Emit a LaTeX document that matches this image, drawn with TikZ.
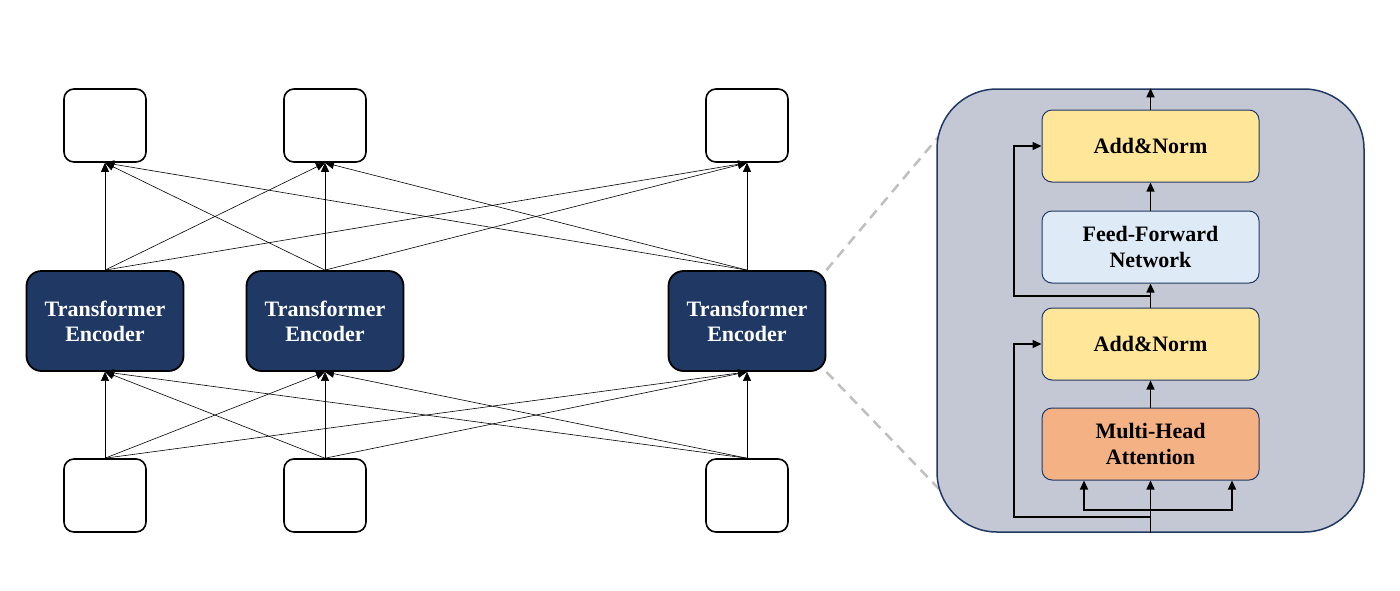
\documentclass[tikz,border=0pt]{standalone}
\usepackage{fontspec}
\setmainfont{Liberation Serif}
\usetikzlibrary{arrows.meta,positioning,backgrounds}

\definecolor{encblue}{HTML}{203864}
\definecolor{panelgray}{HTML}{C3C8D4}
\definecolor{zoomgray}{HTML}{BFBFBF}
\definecolor{normyellow}{HTML}{FFE699}
\definecolor{ffnblue}{HTML}{DEEBF7}
\definecolor{attnorange}{HTML}{F4B183}

\begin{document}
\begin{tikzpicture}[
    x=1pt, y=-1pt,
    font=\fontsize{22}{25}\selectfont\bfseries,
    token/.style={draw, line width=1.6pt, rounded corners=10pt, fill=white, minimum width=82pt, minimum height=73pt},
    encoder/.style={draw, line width=1.8pt, rounded corners=15pt, fill=encblue, text=white, align=center, minimum width=157pt, minimum height=100pt},
    panel/.style={draw=encblue, line width=1.5pt, rounded corners=60pt, fill=panelgray, minimum width=427pt, minimum height=443pt},
    layer/.style={draw=encblue, line width=1pt, rounded corners=10pt, align=center, minimum width=217pt, minimum height=72pt, font=\fontsize{22}{26}\selectfont\bfseries},
    arrow/.style={-{Triangle[length=9pt,width=8pt]}, line width=0.6pt},
    flow/.style={-{Triangle[length=9pt,width=8pt]}, line width=1.4pt},
    zoomline/.style={draw=zoomgray, dash pattern=on 10pt off 7pt, line width=2.5pt}
]
\useasboundingbox (0,0) rectangle (1400,590);

% token / encoder columns
\foreach \n/\x in {1/105, 2/325, 3/747} {
    \node[token] (out\n) at (\x,125.5) {};
    \node[encoder] (enc\n) at (\x,321) {Transformer\\Encoder};
    \node[token] (in\n) at (\x,495.5) {};
}
\foreach \i in {1,2,3} {
    \foreach \j in {1,2,3} {
        \draw[arrow] (enc\i.north) -- (out\j.south);
        \draw[arrow] (in\i.north) -- (enc\j.south);
    }
}

% zoomed encoder
\node[panel] (panel) at (1150.5,310.5) {};
\coordinate (zoomtop) at (940,135);
\coordinate (zoombot) at (940,490);
\begin{scope}[on background layer]
    \draw[zoomline] (enc3.north east) -- (zoomtop);
    \draw[zoomline] (enc3.south east) -- (zoombot);
\end{scope}

\node[layer, fill=normyellow] (norm2) at (1150.5,146) {Add\&Norm};
\node[layer, fill=ffnblue] (ffn) at (1150.5,247) {Feed-Forward\\Network};
\node[layer, fill=normyellow] (norm1) at (1150.5,344) {Add\&Norm};
\node[layer, fill=attnorange] (mha) at (1150.5,444) {Multi-Head\\Attention};

\coordinate (split) at (1150.5,510);
\coordinate (res1) at (1150.5,517);
\coordinate (res2) at (1150.5,296);

\draw[flow] (panel.south) -- (mha);
\draw[flow] (split) -| ([xshift=-66.5pt]mha.south);
\draw[flow] (split) -| ([xshift=81.5pt]mha.south);
\draw[flow] (mha) -- (norm1);
\draw[flow] (norm1) -- (ffn);
\draw[flow] (ffn) -- (norm2);
\draw[flow] (norm2) -- (panel.north);
\draw[flow] (res1) -- ++(-136.5,0) |- (norm1.west);
\draw[flow] (res2) -- ++(-136.5,0) |- (norm2.west);
\end{tikzpicture}
\end{document}
